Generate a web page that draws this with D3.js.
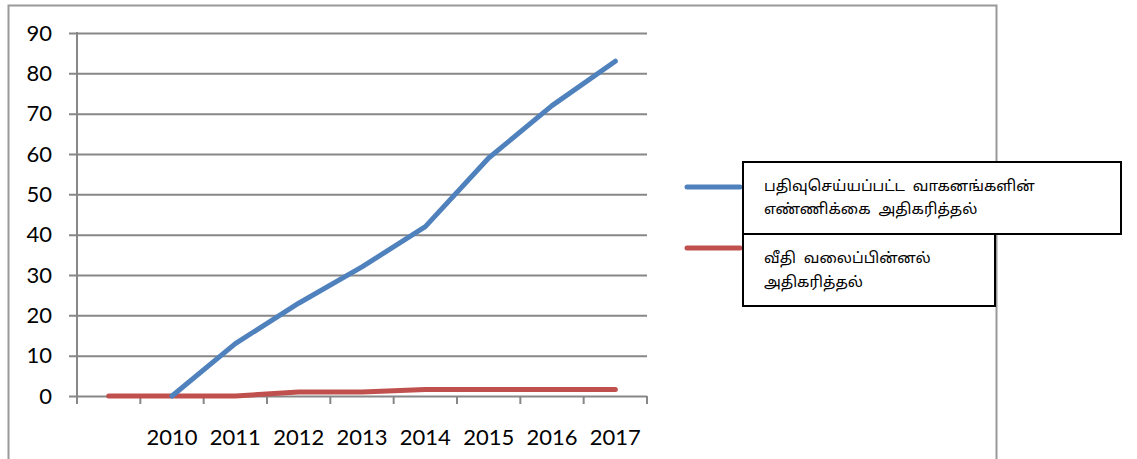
<!DOCTYPE html>
<html>
<head>
<meta charset="utf-8">
<script src="https://cdn.jsdelivr.net/npm/d3@7"></script>
<style>
  html, body { margin: 0; padding: 0; background: #fff; }
  svg { display: block; }
</style>
</head>
<body>
<svg id="chart" width="1137" height="459"></svg>
<script>
const categories = ["", "2010", "2011", "2012", "2013", "2014", "2015", "2016", "2017"];
const registeredVehicles = [null, 0, 13, 23, 32, 42, 59, 72, 83];
const roadNetwork = [0, 0, 0, 1, 1, 1.6, 1.6, 1.6, 1.6];
const yTicks = [0, 10, 20, 30, 40, 50, 60, 70, 80, 90];
const seriesNames = [
  ["பதிவுசெய்யப்பட்ட வாகனங்களின்", "எண்ணிக்கை அதிகரித்தல்"],
  ["வீதி வலைப்பின்னல்", "அதிகரித்தல்"]
];
const seriesColors = ["#4F81BD", "#C0504D"];

const svg = d3.select("#chart");
const gridColor = "#878787";
const axisFont = "Lato, 'Open Sans', sans-serif";
const tamilFont = "'Noto Sans Tamil', 'Latha', 'Noto Sans', sans-serif";

// outer frame
svg.append("path")
  .attr("d", "M8.5,470 V5.5 H996.5 V470")
  .attr("fill", "none").attr("stroke", "#999").attr("stroke-width", 2);

const x = d3.scaleBand().domain(categories).range([77, 647]).padding(0);
const y = d3.scaleLinear().domain([0, 90]).range([396, 33]);
const cx = c => x(c) + x.bandwidth() / 2;

// y axis with gridlines
const yAxis = svg.append("g").attr("transform", "translate(69,0)")
  .call(d3.axisLeft(y).tickValues(yTicks).tickSize(-(647 - 69)).tickPadding(17).tickFormat(d3.format("d")));
yAxis.select(".domain").remove();
yAxis.selectAll(".tick line").attr("stroke", gridColor).attr("stroke-width", 2);
yAxis.selectAll(".tick text").attr("font-family", axisFont).attr("font-size", 22).attr("fill", "#000");

// vertical axis line
svg.append("line").attr("x1", 77).attr("x2", 77).attr("y1", y(90) - 1).attr("y2", 404)
  .attr("stroke", gridColor).attr("stroke-width", 2);

// x axis tick marks at category boundaries
const boundaries = categories.map(c => x(c)).concat([x.range()[1]]);
svg.append("g").selectAll("line").data(boundaries).join("line")
  .attr("x1", d => d).attr("x2", d => d).attr("y1", y(0)).attr("y2", 404)
  .attr("stroke", gridColor).attr("stroke-width", 2);

// x labels
svg.append("g").selectAll("text").data(categories).join("text")
  .attr("x", d => cx(d)).attr("y", 445)
  .attr("text-anchor", "middle")
  .attr("font-family", axisFont).attr("font-size", 22).attr("fill", "#000")
  .text(d => d);

// lines
const series = [registeredVehicles, roadNetwork];
const line = d3.line()
  .defined(d => d.v !== null)
  .x(d => cx(d.c)).y(d => y(d.v));
series.slice().reverse().forEach((s, ri) => {
  const i = series.length - 1 - ri;
  svg.append("path")
    .datum(categories.map((c, k) => ({ c, v: s[k] })))
    .attr("d", line)
    .attr("fill", "none")
    .attr("stroke", seriesColors[i])
    .attr("stroke-width", 5)
    .attr("stroke-linecap", "round")
    .attr("stroke-linejoin", "round");
});

// legend
const legend = [
  { box: [743, 162, 1121, 234], lineY: 187, text: seriesNames[0], baselines: [191, 214] },
  { box: [743, 234, 995, 306], lineY: 248, text: seriesNames[1], baselines: [263, 287] }
];
legend.forEach((l, i) => {
  svg.append("line").attr("x1", 687).attr("x2", 740).attr("y1", l.lineY).attr("y2", l.lineY)
    .attr("stroke", seriesColors[i]).attr("stroke-width", 5).attr("stroke-linecap", "round");
  svg.append("rect").attr("x", l.box[0]).attr("y", l.box[1])
    .attr("width", l.box[2] - l.box[0]).attr("height", l.box[3] - l.box[1])
    .attr("fill", "#fff").attr("stroke", "#000").attr("stroke-width", 2);
});
legend.forEach((l, i) => {
  l.text.forEach((t, j) => {
    svg.append("text").attr("x", 764).attr("y", l.baselines[j])
      .attr("font-family", tamilFont).attr("font-size", 15).attr("fill", "#000")
      .attr("xml:space", "preserve")
      .text(t.replace(" ", "  "));
  });
});
</script>
</body>
</html>
